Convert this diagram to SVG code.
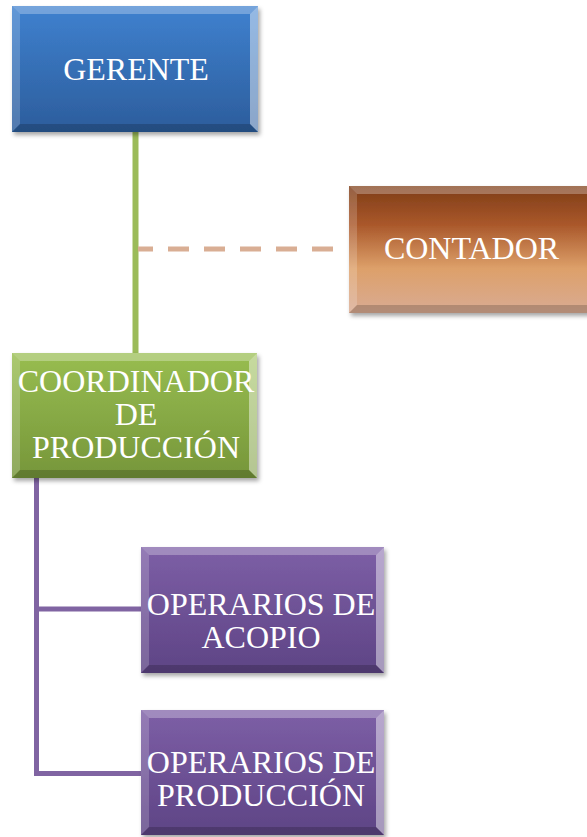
<svg xmlns="http://www.w3.org/2000/svg" width="587" height="837" viewBox="0 0 587 837">
<defs>
<style>
.lbl{font-family:"Liberation Serif","Times New Roman",serif;font-size:32px;fill:#ffffff;text-anchor:middle}
.bt{fill:#ffffff;opacity:0.28}
.bl{fill:#ffffff;opacity:0.18}
.br{fill:#ffffff;opacity:0.45}
.bb{fill:#000000;opacity:0.18}
</style>
<filter id="sh" x="-10%" y="-10%" width="125%" height="130%">
<feDropShadow dx="2" dy="3" stdDeviation="2" flood-color="#000" flood-opacity="0.35"/>
</filter>
<linearGradient id="gBlue" x1="0" y1="0" x2="0" y2="1">
<stop offset="0" stop-color="#3f81cf"/><stop offset="1" stop-color="#2c5d9c"/>
</linearGradient>
<linearGradient id="gBrown" x1="0" y1="0" x2="0" y2="1">
<stop offset="0" stop-color="#7e3d18"/><stop offset="0.3" stop-color="#a9572a"/><stop offset="0.65" stop-color="#dda06a"/><stop offset="1" stop-color="#d9ab93"/>
</linearGradient>
<linearGradient id="gGreen" x1="0" y1="0" x2="0" y2="1">
<stop offset="0" stop-color="#98bd50"/><stop offset="1" stop-color="#76963a"/>
</linearGradient>
<linearGradient id="gPurple" x1="0" y1="0" x2="0" y2="1">
<stop offset="0" stop-color="#7d5fa6"/><stop offset="1" stop-color="#5e4485"/>
</linearGradient>
</defs>
<rect width="587" height="837" fill="#ffffff"/>
<g id="connectors" fill="none">
<line x1="135.5" y1="131" x2="135.5" y2="353" stroke="#9bbb59" stroke-width="6"/>
<line x1="333" y1="249" x2="138" y2="249" stroke="#d9ae94" stroke-width="5" stroke-dasharray="21 15"/>
<path d="M36.5 478 V773.5 H141 M36.5 609 H141" stroke="#8064a2" stroke-width="5"/>
</g>
<g id="gerente">
<rect x="12" y="6" width="246" height="126" fill="url(#gBlue)" filter="url(#sh)"/>
<polygon class="bt" points="12,6 258,6 250,14 20,14"/>
<polygon class="bl" points="12,6 20,14 20,124 12,132"/>
<polygon class="br" points="258,6 258,132 250,124 250,14"/>
<polygon class="bb" points="12,132 20,124 250,124 258,132"/>
<text class="lbl" x="136" y="80">GERENTE</text>
</g>
<g id="contador">
<rect x="349" y="186" width="246" height="127" fill="url(#gBrown)" filter="url(#sh)"/>
<polygon class="bt" points="349,186 595,186 587,194 357,194"/>
<polygon class="bl" points="349,186 357,194 357,305 349,313"/>
<polygon class="bb" points="349,313 357,305 587,305 595,313"/>
<text class="lbl" x="471.5" y="259">CONTADOR</text>
</g>
<g id="coordinador">
<rect x="12" y="353" width="245" height="125" fill="url(#gGreen)" filter="url(#sh)"/>
<polygon class="bt" points="12,353 257,353 249,361 20,361"/>
<polygon class="bl" points="12,353 20,361 20,470 12,478"/>
<polygon class="br" points="257,353 257,478 249,470 249,361"/>
<polygon class="bb" points="12,478 20,470 249,470 257,478"/>
<text class="lbl" x="136" y="392">COORDINADOR</text>
<text class="lbl" x="136" y="425">DE</text>
<text class="lbl" x="136" y="458">PRODUCCIÓN</text>
</g>
<g id="acopio">
<rect x="141" y="547" width="243" height="126" fill="url(#gPurple)" filter="url(#sh)"/>
<polygon class="bt" points="141,547 384,547 376,555 149,555"/>
<polygon class="bl" points="141,547 149,555 149,665 141,673"/>
<polygon class="br" points="384,547 384,673 376,665 376,555"/>
<polygon class="bb" points="141,673 149,665 376,665 384,673"/>
<text class="lbl" x="261" y="615">OPERARIOS DE</text>
<text class="lbl" x="261" y="648">ACOPIO</text>
</g>
<g id="produccion">
<rect x="141" y="710" width="243" height="125" fill="url(#gPurple)" filter="url(#sh)"/>
<polygon class="bt" points="141,710 384,710 376,718 149,718"/>
<polygon class="bl" points="141,710 149,718 149,827 141,835"/>
<polygon class="br" points="384,710 384,835 376,827 376,718"/>
<polygon class="bb" points="141,835 149,827 376,827 384,835"/>
<text class="lbl" x="261" y="773">OPERARIOS DE</text>
<text class="lbl" x="261" y="806">PRODUCCIÓN</text>
</g>
</svg>
